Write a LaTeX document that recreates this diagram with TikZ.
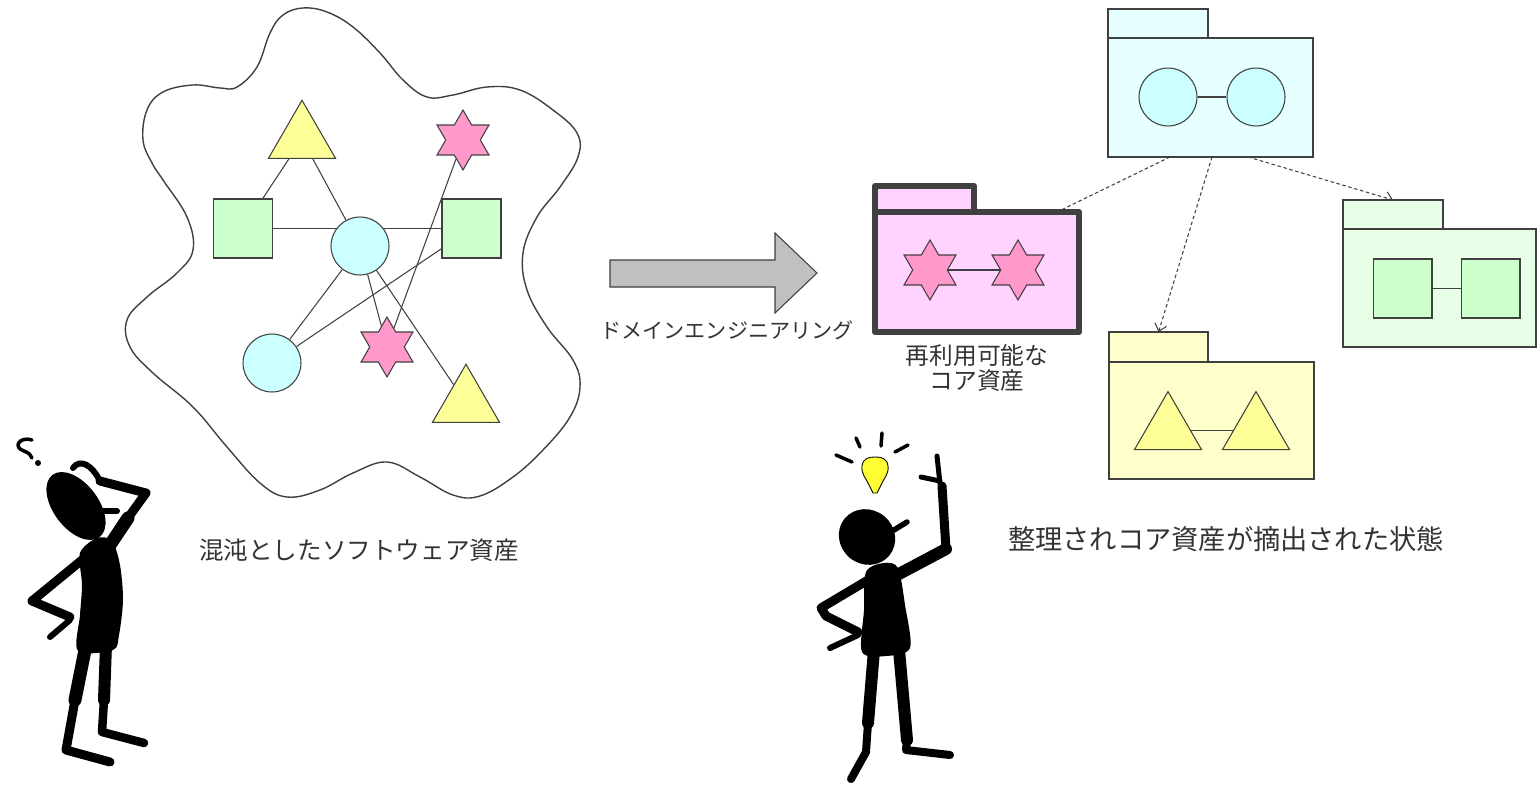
\documentclass[tikz,border=0pt]{standalone}
\usepackage{fontspec}
\newfontfamily\jp{Noto Sans CJK JP}
\usetikzlibrary{shapes.geometric,arrows.meta,backgrounds,positioning}

\definecolor{triyel}{HTML}{FFFF99}
\definecolor{sqgreen}{HTML}{CCFFCC}
\definecolor{circyan}{HTML}{CCFFFF}
\definecolor{starpink}{HTML}{FF99CC}
\definecolor{pkgpink}{HTML}{FFD2FF}
\definecolor{pkgcyan}{HTML}{E6FFFF}
\definecolor{pkgyel}{HTML}{FFFFCC}
\definecolor{pkggreen}{HTML}{E6FFE6}
\definecolor{arrowgray}{HTML}{C0C0C0}
\definecolor{inkgray}{HTML}{404040}
\definecolor{txtgray}{HTML}{333333}
\definecolor{bulbyel}{HTML}{FFFF33}

\tikzset{
  part/.style={draw=inkgray, line width=0.6pt, inner sep=0pt},
  tri/.style={part, regular polygon, regular polygon sides=3, minimum size=1.55cm, fill=triyel},
  hex/.style={part, star, star points=6, star point ratio=1.732, minimum size=1.2cm, fill=starpink},
  ball/.style={part, circle, minimum size=1.16cm, fill=circyan},
  box/.style={part, rectangle, minimum size=1.18cm, fill=sqgreen},
  link/.style={draw=inkgray, line width=0.6pt},
  pkg/.style={draw=inkgray, line width=0.8pt, inner sep=0pt, outer sep=0pt, minimum width=4.1cm, minimum height=2.38cm},
  pkgtab/.style={draw=inkgray, line width=0.8pt, inner sep=0pt, outer sep=0pt, minimum width=2cm, minimum height=0.58cm, anchor=south west},
  dep/.style={draw=inkgray, line width=0.6pt, dash pattern=on 2pt off 1.5pt},
  lbl/.style={text=txtgray, inner sep=0pt},
  limb/.style={line cap=round, line join=round},
}

\begin{document}
\begin{tikzpicture}[x=0.02cm, y=-0.02cm]
  \useasboundingbox (0,0) rectangle (1537,784);

  % the tangled assets
  \draw[draw=inkgray, line width=0.8pt] plot[smooth cycle, tension=0.65] coordinates {
    (237,87) (257,67) (270,33) (283,15) (303,8) (327,12) (353,27) (380,53) (403,80)
    (427,97) (453,95) (487,87) (520,90) (553,110) (577,133) (578,157) (560,187)
    (537,217) (523,253) (527,290) (547,327) (573,360) (580,387) (570,417) (543,450)
    (513,477) (480,496) (453,495) (420,477) (387,462) (353,473) (320,490) (287,497)
    (260,483) (227,447) (193,407) (153,373) (130,347) (127,320) (147,297) (177,273)
    (193,250) (187,217) (163,180) (152,163) (143,140) (147,110) (163,92) (193,85) (220,88)};

  \node[tri] (T1) at (302,139) {};
  \node[tri] (T2) at (466,403) {};
  \node[hex] (S1) at (463,140) {};
  \node[hex] (S2) at (387,347) {};
  \node[box] (B1) at (243,228.5) {};
  \node[box] (B2) at (471.5,228.5) {};
  \node[ball] (C1) at (360,246) {};
  \node[ball] (C2) at (272,363) {};

  \begin{pgfonlayer}{background}
    \draw[link] (T1) -- (B1);
    \draw[link] (T1) -- (C1);
    \draw[link] (B1) -- (B1 -| C1);
    \draw[link] (C1 |- B2) -- (B2);
    \draw[link] (S1) -- (S2);
    \draw[link] (B2) -- (C2);
    \draw[link] (C1) -- (C2);
    \draw[link] (C1) -- (S2);
    \draw[link] (C1) -- (T2);
  \end{pgfonlayer}

  \node[lbl, font={\jp\fontsize{14pt}{17pt}\selectfont}] (chaos) at (359,550) {混沌としたソフトウェア資産};

  % domain engineering arrow
  \filldraw[fill=arrowgray, draw=inkgray, line width=0.6pt]
    (610,260) -- (775,260) -- (775,233) -- (817,273) -- (775,313) -- (775,287) -- (610,287) -- cycle;
  \node[lbl, font={\jp\fontsize{12pt}{14pt}\selectfont}] (flow) at (727,330) {ドメインエンジニアリング};

  % reusable core package
  \node[pkg, fill=pkgpink, line width=0.12cm, line join=round, minimum width=4.08cm, minimum height=2.4cm] (R) at (977,272) {};
  \node[pkgtab, fill=pkgpink, line width=0.12cm, line join=round, minimum width=1.98cm, minimum height=0.52cm] (Rtab) at (R.north west) {};
  \node[hex] (R1) at (930,270) {};
  \node[hex] (R2) at (1018,270) {};
  \draw[link] (R1) -- (R2);
  \node[lbl, align=center, font={\jp\fontsize{13.5pt}{14.7pt}\selectfont}] (core) at (977,368) {再利用可能な\\コア資産};

  % extracted packages
  \node[pkg, fill=pkgcyan] (P) at (1210.5,97.5) {};
  \node[pkgtab, fill=pkgcyan] (Ptab) at (P.north west) {};
  \node[ball] (P1) at (1168,97) {};
  \node[ball] (P2) at (1256,97) {};
  \draw[link] (P1) -- (P2);

  \node[pkg, fill=pkgyel, minimum height=2.34cm] (Y) at (1211.5,420.5) {};
  \node[pkgtab, fill=pkgyel, minimum width=1.98cm, minimum height=0.6cm] (Ytab) at (Y.north west) {};
  \node[tri] (Y1) at (1168,430.3) {};
  \node[tri] (Y2) at (1256,430.3) {};
  \draw[link] (Y1) -- (Y2);

  \node[pkg, fill=pkggreen, minimum width=3.86cm, minimum height=2.36cm] (G) at (1439.5,288) {};
  \node[pkgtab, fill=pkggreen] (Gtab) at (G.north west) {};
  \node[box] (G1) at (1402.5,288.5) {};
  \node[box] (G2) at (1490.5,288.5) {};
  \draw[link] (G1) -- (G2);

  \begin{pgfonlayer}{background}
    \draw[dep] ([xshift=-0.81cm]P.south) -- ([xshift=1.6cm]R.north);
    \draw[dep, -{Straight Barb[length=4pt, width=7pt]}] ([xshift=0.03cm]P.south) -- (Ytab.north);
    \draw[dep, -{Straight Barb[length=4pt, width=7pt]}] ([xshift=0.75cm]P.south) -- (Gtab.north);
  \end{pgfonlayer}

  \node[lbl, font={\jp\fontsize{15.5pt}{18pt}\selectfont}] (goal) at (1226,539) {整理されコア資産が摘出された状態};

  % puzzled figure
  \draw[line width=0.07cm, line cap=round] (32,440) .. controls (20,436) and (12,447) .. (24,451) .. controls (29,453) and (31,455) .. (32,458);
  \fill (38,463) circle (0.06cm);
  \fill[rotate around={-53:(76,506)}] (76,506) ellipse [x radius=0.78cm, y radius=0.45cm];
  \draw[limb, line width=0.12cm] (98,511) -- (117,511);
  \fill plot[smooth cycle] coordinates {(80,553) (97,538) (112,541) (120,565) (123,600) (119,635) (113,650) (78,651) (80,615) (82,585)};
  \draw[limb, line width=0.26cm] (108,548) -- (128,518);
  \draw[limb, line width=0.18cm] (125,522) -- (146,493) -- (100,481);
  \draw[limb, line width=0.12cm] (100,481) .. controls (92,465) and (80,458) .. (73,468);
  \draw[limb, line width=0.18cm] (82,560) -- (32,601) -- (70,617);
  \draw[limb, line width=0.12cm] (70,620) -- (50,637);
  \draw[limb, line width=0.26cm] (86,645) -- (75,700);
  \draw[limb, line width=0.18cm] (75,700) -- (66,750) -- (110,762);
  \draw[limb, line width=0.24cm] (106,645) -- (104,700);
  \draw[limb, line width=0.17cm] (104,700) -- (102,732) -- (144,743);

  % figure with an idea
  \filldraw[fill=bulbyel, draw=black, line width=0.5pt] (873,493) -- (869,485)
    .. controls (866,478) and (861,474) .. (862,466) .. controls (863,458) and (869,457) .. (875,457)
    .. controls (881,457) and (887,458) .. (888,466) .. controls (889,474) and (884,478) .. (881,485)
    -- (877,493) -- cycle;
  \draw[limb, line width=0.07cm] (836,455) -- (852,462);
  \draw[limb, line width=0.07cm] (856,438) -- (860,447);
  \draw[limb, line width=0.07cm] (882,433) -- (881,446);
  \draw[limb, line width=0.07cm] (908,445) -- (895,452);
  \fill[rotate around={-40:(867,537)}] (867,537) ellipse [x radius=0.58cm, y radius=0.54cm];
  \draw[limb, line width=0.11cm] (889,533) -- (907,522);
  \fill plot[smooth cycle] coordinates {(866,572) (884,563) (898,568) (905,605) (910,648) (886,656) (862,652) (864,610)};
  \draw[limb, line width=0.24cm] (897,575) -- (946,549);
  \draw[limb, line width=0.18cm] (946,549) -- (942,486);
  \draw[limb, line width=0.1cm] (940,484) -- (937,456);
  \draw[limb, line width=0.1cm] (940,481) -- (921,477);
  \draw[limb, line width=0.18cm] (868,580) -- (821,608) -- (826,616) -- (858,632);
  \draw[limb, line width=0.12cm] (858,635) -- (830,648);
  \draw[limb, line width=0.24cm] (874,650) -- (868,723);
  \draw[limb, line width=0.16cm] (868,723) -- (866,752) -- (851,779);
  \draw[limb, line width=0.24cm] (899,650) -- (907,740);
  \draw[limb, line width=0.16cm] (907,740) -- (906,750) -- (950,755);
\end{tikzpicture}
\end{document}
